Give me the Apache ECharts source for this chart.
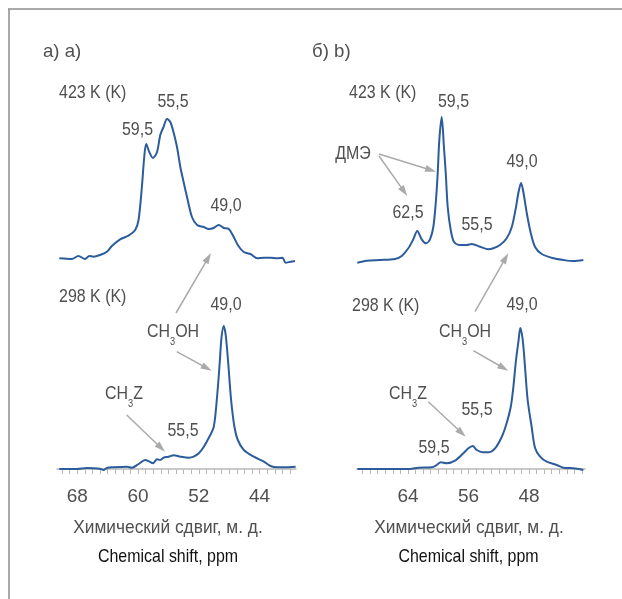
<!DOCTYPE html>
<html>
<head>
<meta charset="utf-8">
<script src="https://cdn.jsdelivr.net/npm/echarts@6/dist/echarts.min.js"></script>
<style>
html,body{margin:0;padding:0;background:#fff;}
#chart{width:622px;height:599px;}
</style>
</head>
<body>
<div id="chart"></div>
<script>
// а) 423 K
var ppmA423 = [70.36,68.7,67.85,66.97,66.4,65.87,65.0,64.1,63.44,62.35,61.25,60.37,59.93,59.49,59.18,58.92,58.52,58.04,57.5,57.07,56.64,56.19,55.75,55.3,54.87,54.43,54.0,53.55,52.9,52.23,51.36,50.7,50.04,49.38,48.72,48.06,47.4,46.87,46.08,45.2,44.3,43.44,42.56,41.7,41.0,40.58,39.92,39.35];
var intA423 = [0.7,0,3,0,3,2.3,4,7.3,13,19.7,23.3,29,39,72,102,115,107,101,107,124,132,140,137,126,112,92,77,62,42,34,32,30,31,34,31,30,22,14,7,5,0.7,1.3,1.3,0.7,1.3,-3.7,-2.7,-2];
// а) 298 K
var ppmA298 = [70.36,68.06,66.74,64.99,64.55,64.1,63.23,61.47,60.8,59.93,59.05,58.48,58.04,57.5,57.07,56.64,55.98,55.3,54.43,53.33,52.68,52.0,51.36,50.7,50.04,49.6,49.25,49.02,48.72,48.46,48.14,47.75,47.31,46.87,46.08,44.76,43.44,42.56,41.7,40.8,39.26];
var intA298 = [0,0,1,0.3,-1,1,1.7,2.3,1.3,5,9,7.3,5.7,9.7,9,11.3,12.3,13.7,12.3,11.3,12.3,15.7,22,31,42,72,106,131,143,134,107,69,42,29,19,12.3,7.3,3,1.7,1.7,2.3];
// б) 423 K
var ppmB423 = [70.7,69.46,67.7,65.72,64.83,63.96,63.3,62.77,62.19,61.62,61.09,60.65,60.33,60.07,59.86,59.54,59.24,59.01,58.75,58.35,57.91,57.12,56.24,55.57,54.48,53.38,52.72,51.83,50.95,50.28,49.72,49.41,49.05,48.75,48.3,47.77,47.2,46.32,44.78,43.46,42.14,40.82];
var intB423 = [-0.7,1.3,2,3,6,13.7,22.7,31,22.7,18.7,22.7,35,59,89,122,145,114,89,55,32,20,17,17,18,15.3,12.7,13.7,17,23.7,35,55,69,79,70,49,29,15,8,3.7,2,1,2];
// б) 298 K
var ppmB298 = [70.7,63.73,62.63,60.86,60.2,59.67,58.88,57.78,56.68,56.02,55.44,54.91,54.12,53.38,52.49,51.61,50.95,50.42,50.07,49.72,49.41,49.15,48.83,48.53,48.18,47.65,47.2,46.54,45.66,44.33,43.46,42.14,40.82];
var intB298 = [0,0,1.3,1.7,4,6.7,5.7,8.3,15.7,20.7,23,19,16.7,16.7,20.7,32,46,62,82,109,127,141,129,102,69,42,21,12.3,7.3,4,1.3,0.7,-1];

var ticksA = [68, 60, 52, 44];
var ticksB = [64, 56, 48];

var FONT = '"Liberation Sans", Arial, sans-serif';
var BLUE = '#2c5c9b';
var GREY = '#aaaaaa';
var TXT = '#4f4f4f';
var NARROW = 0.84; // imitation of the condensed face

function zip(xs, ys) {
    var out = [];
    for (var i = 0; i < xs.length; i++) out.push([xs[i], ys[i]]);
    return out;
}
function minorTicks(from, to) {
    var out = [];
    for (var v = from; v >= to; v--) out.push(v);
    return out;
}

var chart = echarts.init(document.getElementById('chart'));

function topAxis(gi, min, max) {
    return {type: 'value', gridIndex: gi, min: min, max: max, inverse: true, show: false};
}
function bottomAxis(gi, min, max, minor, labels) {
    return {
        type: 'value', gridIndex: gi, min: min, max: max, inverse: true,
        axisLine: {show: true, lineStyle: {color: '#b8b8b8', width: 1.5}},
        axisTick: {show: true, length: 5, customValues: minor, lineStyle: {color: '#b8b8b8', width: 1}},
        axisLabel: {show: true, customValues: labels, margin: 12, color: TXT, fontSize: 19, fontFamily: FONT},
        splitLine: {show: false}
    };
}
function yAx(gi, min, max) {
    return {type: 'value', gridIndex: gi, min: min, max: max, show: false};
}
function spec(gi, data) {
    return {
        type: 'line', xAxisIndex: gi, yAxisIndex: gi, data: data,
        showSymbol: false, smooth: 0.3, silent: true,
        lineStyle: {color: BLUE, width: 2}
    };
}

function txt(x, y, s, align, color, sx) {
    return {
        type: 'text', x: x, y: y, silent: true, scaleX: sx || NARROW,
        style: {text: s, align: align || 'center', verticalAlign: 'middle',
            fill: color || TXT, fontSize: 19, fontFamily: FONT}
    };
}
function sub(x, y, a, b, c) {
    return {
        type: 'text', x: x, y: y, silent: true, scaleX: NARROW,
        style: {
            text: '{a|' + a + '}{s|' + b + '}{a|' + c + '}',
            align: 'left', verticalAlign: 'middle',
            rich: {
                a: {fontSize: 19, fontFamily: FONT, fill: TXT, color: TXT},
                s: {fontSize: 11, fontFamily: FONT, fill: TXT, color: TXT, padding: [20, 0, 0, 0]}
            }
        }
    };
}
function arrow(x1, y1, x2, y2) {
    var dx = x2 - x1, dy = y2 - y1, L = Math.sqrt(dx * dx + dy * dy);
    var ux = dx / L, uy = dy / L, nx = -uy, ny = ux;
    var bx = x2 - ux * 11, by = y2 - uy * 11;
    return {
        type: 'group', silent: true, children: [
            {type: 'line', shape: {x1: x1, y1: y1, x2: bx + ux * 2, y2: by + uy * 2}, style: {stroke: GREY, lineWidth: 1.5}},
            {type: 'polygon', shape: {points: [[x2, y2], [bx + nx * 3.5, by + ny * 3.5], [bx - nx * 3.5, by - ny * 3.5]]}, style: {fill: GREY}}
        ]
    };
}

var option = {
    backgroundColor: '#fff',
    animation: false,
    grid: [
        {left: 57, right: 326, top: 100, height: 170},
        {left: 57, right: 326, top: 300, height: 175},
        {left: 357, right: 37, top: 100, height: 170},
        {left: 357, right: 37, top: 300, height: 175}
    ],
    xAxis: [
        topAxis(0, 39.21, 70.66),
        bottomAxis(1, 39.21, 70.66, minorTicks(70, 40), ticksA),
        topAxis(2, 40.6, 70.74),
        bottomAxis(3, 40.6, 70.74, minorTicks(70, 41), ticksB)
    ],
    yAxis: [yAx(0, -11, 159), yAx(1, -6, 169), yAx(2, -8, 162), yAx(3, -6, 169)],
    series: [
        spec(0, zip(ppmA423, intA423)),
        spec(1, zip(ppmA298, intA298)),
        spec(2, zip(ppmB423, intB423)),
        spec(3, zip(ppmB298, intB298))
    ],
    graphic: [
        // frame
        {type: 'line', silent: true, shape: {x1: 8, y1: 9, x2: 622, y2: 9}, style: {stroke: '#8c8c8c', lineWidth: 1.5}},
        {type: 'line', silent: true, shape: {x1: 9, y1: 9, x2: 9, y2: 599}, style: {stroke: '#8c8c8c', lineWidth: 1.5}},
        // panel a
        txt(43, 52, 'а) a)', 'left', TXT, 0.98),
        txt(59, 93, '423 K (K)', 'left'),
        txt(137.5, 130, '59,5'),
        txt(173, 102, '55,5'),
        txt(226, 206, '49,0'),
        txt(59, 297, '298 K (K)', 'left'),
        txt(226, 305, '49,0'),
        sub(147, 331.5, 'CH', '3', 'OH'),
        sub(105, 393.5, 'CH', '3', 'Z'),
        txt(183, 431, '55,5'),
        arrow(176, 313, 211, 253),
        arrow(176.7, 351.7, 211.7, 370.7),
        arrow(126.7, 415, 165, 451.7),
        txt(168, 528, 'Химический сдвиг, м. д.', 'center', TXT, 0.91),
        txt(168, 557, 'Chemical shift, ppm', 'center', '#111'),
        // panel b
        txt(312, 52, 'б) b)', 'left', TXT, 0.98),
        txt(349, 92.5, '423 K (K)', 'left'),
        txt(453.5, 102, '59,5'),
        txt(353, 154, 'ДМЭ'),
        txt(522, 162, '49,0'),
        txt(408, 213, '62,5'),
        txt(477, 225, '55,5'),
        arrow(379, 154, 436, 171.7),
        arrow(379, 156, 407.3, 196),
        arrow(475, 311.7, 508.3, 253.3),
        txt(352, 305.5, '298 K (K)', 'left'),
        txt(522, 305, '49,0'),
        sub(439, 332, 'CH', '3', 'OH'),
        sub(389, 394, 'CH', '3', 'Z'),
        txt(477, 410, '55,5'),
        txt(434, 447.5, '59,5'),
        arrow(473.3, 350.7, 508.3, 370.7),
        arrow(428.3, 401.7, 465.7, 436.7),
        txt(469, 528, 'Химический сдвиг, м. д.', 'center', TXT, 0.91),
        txt(468.5, 557, 'Chemical shift, ppm', 'center', '#111')
    ]
};
chart.setOption(option);
</script>
</body>
</html>
